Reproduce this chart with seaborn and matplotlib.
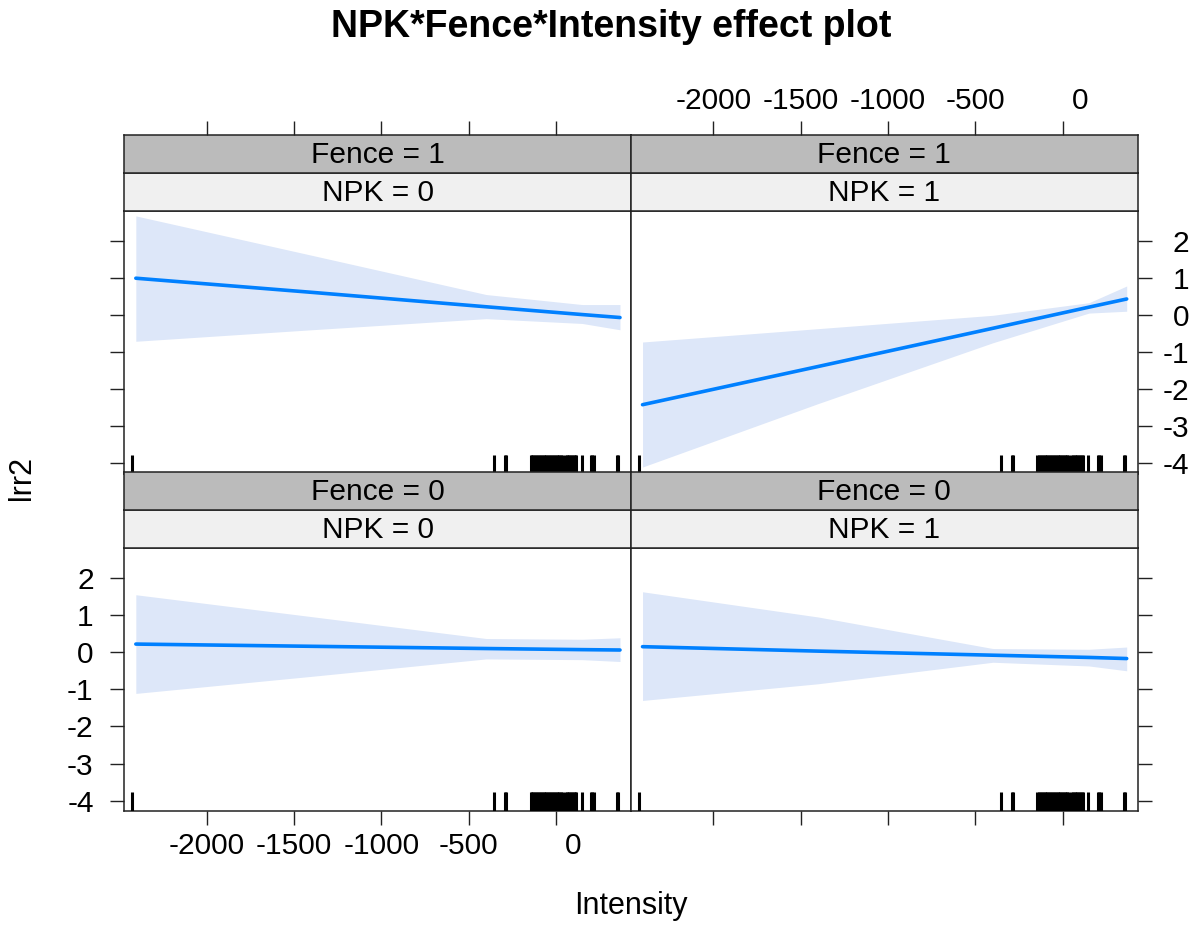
import numpy as np
import pandas as pd
import seaborn as sns
import matplotlib.pyplot as plt
from matplotlib.transforms import ScaledTranslation

sns.set_style("white")
plt.rcParams['font.family'] = ['Liberation Sans', 'DejaVu Sans']
plt.rcParams['text.color'] = 'black'
plt.rcParams['xtick.color'] = 'black'
plt.rcParams['ytick.color'] = 'black'
plt.rcParams['axes.labelcolor'] = 'black'

# effect estimates at the evaluated Intensity values
intensity = [-2405, -1400, -400, 150, 366]
fit_f1_n0 = [0.99, 0.61, 0.22, 0.01, -0.07]
lo_f1_n0 = [-0.71, -0.40, -0.10, -0.23, -0.40]
hi_f1_n0 = [2.67, 1.61, 0.55, 0.28, 0.28]
fit_f1_n1 = [-2.42, -1.39, -0.36, 0.21, 0.43]
lo_f1_n1 = [-4.10, -2.39, -0.75, 0.05, 0.10]
hi_f1_n1 = [-0.73, -0.37, -0.01, 0.33, 0.78]
fit_f0_n0 = [0.22, 0.16, 0.10, 0.07, 0.06]
lo_f0_n0 = [-1.11, -0.65, -0.18, -0.20, -0.25]
hi_f0_n0 = [1.55, 0.96, 0.37, 0.35, 0.39]
fit_f0_n1 = [0.15, 0.03, -0.08, -0.14, -0.17]
lo_f0_n1 = [-1.30, -0.85, -0.27, -0.37, -0.50]
hi_f0_n1 = [1.63, 0.95, 0.10, 0.08, 0.14]

# observed Intensity values (rug)
rug_x = [-2426, -353, -292, -284, -145, -138, -130, -121, -112, -104, -95,
         -88, -80, -71, -63, -55, -46, -38, -30, -21, -13, -5, 3, 11, 19,
         27, 35, 52, 60, 68, 76, 84, 92, 100, 108, 116, 147, 199, 205, 218,
         348, 357]

xticks = [-2000, -1500, -1000, -500, 0]
yticks = [-4, -3, -2, -1, 0, 1, 2]

panels = [(1, 0, fit_f1_n0, lo_f1_n0, hi_f1_n0),
          (1, 1, fit_f1_n1, lo_f1_n1, hi_f1_n1),
          (0, 0, fit_f0_n0, lo_f0_n0, hi_f0_n0),
          (0, 1, fit_f0_n1, lo_f0_n1, hi_f0_n1)]
rows = []
for fence, npk, fit, lo, hi in panels:
    for x, f, l, h in zip(intensity, fit, lo, hi):
        rows.append(dict(Fence=fence, NPK=npk, Intensity=x, lrr2=f, lower=l, upper=h))
df = pd.DataFrame(rows)

line_col = "#0080FF"
band_col = "#DDE7F9"
fs = 21.5


def draw_effect(data, **kws):
    ax = plt.gca()
    ax.fill_between(data["Intensity"], data["lower"], data["upper"],
                    color=band_col, lw=0, zorder=1)
    sns.lineplot(data=data, x="Intensity", y="lrr2", color=line_col,
                 lw=2.6, ax=ax, zorder=3)
    sns.rugplot(x=rug_x, ax=ax, height=0.073, color="black", linewidth=2.2,
                expand_margins=False, zorder=4)


g = sns.FacetGrid(df, row="Fence", col="NPK", row_order=[1, 0], col_order=[0, 1],
                  sharex=True, sharey=True, margin_titles=False)
g.map_dataframe(draw_effect)
fig = g.figure
fig.set_size_inches(12.02, 9.26)
W, H = 1202.0, 926.0

xlim = (-2471, 429)
ylim = (-4.28, 2.81)
left = [124.3, 631.0]
pw = 506.7
top_y = [210.7, 548.0]
ph = 263.0
sh = 38.0

label_off = ScaledTranslation(17 / 100, 0, fig.dpi_scale_trans)

for i in range(2):
    for j in range(2):
        ax = g.axes[i, j]
        ax.set_position([left[j] / W, 1 - (top_y[i] + ph) / H, pw / W, ph / H])
        ax.set_xlim(xlim)
        ax.set_ylim(ylim)
        ax.set_title("")
        ax.set_xlabel("")
        ax.set_ylabel("")
        for s in ax.spines.values():
            s.set_visible(True)
            s.set_color("#222222")
            s.set_linewidth(1.1)
        ax.tick_params(which="both", direction="out", length=10, width=1,
                       color="#222222", labelsize=fs, bottom=False, top=False,
                       left=False, right=False, labelbottom=False,
                       labeltop=False, labelleft=False, labelright=False)
        ax.set_xticks(xticks)
        ax.set_yticks(yticks)
        x0 = left[j] / W
        y1 = 1 - top_y[i] / H
        npk_ax = fig.add_axes([x0, y1, pw / W, sh / H])
        fen_ax = fig.add_axes([x0, y1 + sh / H, pw / W, sh / H])
        fence = [1, 0][i]
        npk = [0, 1][j]
        for sax, col, txt in [(npk_ax, "#F0F0F0", f"NPK = {npk}"),
                              (fen_ax, "#BBBBBB", f"Fence = {fence}")]:
            sax.set_facecolor(col)
            sax.set_xlim(xlim)
            sax.set_yticks([])
            sax.set_xticks([])
            for s in sax.spines.values():
                s.set_color("#222222")
                s.set_linewidth(1.1)
            sax.text(0.5, 0.47, txt, ha="center", va="center", fontsize=fs,
                     transform=sax.transAxes)
        if i == 0:
            fen_ax.set_xticks(xticks)
            fen_ax.tick_params(direction="out", length=10, width=1, color="#222222",
                               top=True, bottom=False, labeltop=(j == 1),
                               labelbottom=False, labelsize=fs, pad=4)
            if j == 1:
                fen_ax.set_xticklabels([str(t) for t in xticks])
                lab = fen_ax.get_xticklabels()[-1]
                lab.set_transform(lab.get_transform() + label_off)
        else:
            ax.tick_params(bottom=True, labelbottom=(j == 0), pad=5)
            if j == 0:
                ax.set_xticklabels([str(t) for t in xticks])
                lab = ax.get_xticklabels()[-1]
                lab.set_transform(lab.get_transform() + label_off)
        if j == 0:
            ax.tick_params(axis="y", left=True, labelleft=(i == 1), pad=12)
        else:
            ax.tick_params(axis="y", right=True, labelright=(i == 0), pad=27)
        if i == 1 and j == 0:
            ax.set_yticklabels([str(t) for t in yticks])
        if i == 0 and j == 1:
            ax.set_yticklabels([str(t) for t in yticks], ha="right")

fig.text(611 / W, 1 - 27 / H, "NPK*Fence*Intensity effect plot", ha="center",
         va="center", fontsize=27, fontweight="bold")
fig.text(631 / W, 1 - 906 / H, "Intensity", ha="center", va="center", fontsize=22)
fig.text(22 / W, 1 - 478 / H, "lrr2", ha="center", va="center", fontsize=22,
         rotation=90)

fig.savefig("out.png", dpi=100)
